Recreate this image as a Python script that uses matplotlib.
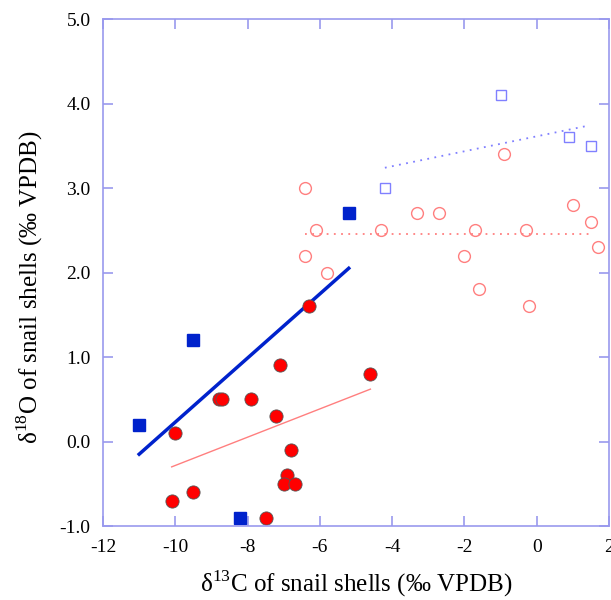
import numpy as np
import matplotlib
matplotlib.use("Agg")
import matplotlib.pyplot as plt

plt.rcParams['font.family'] = ['Liberation Serif', 'DejaVu Serif']
plt.rcParams['mathtext.fontset'] = 'custom'
plt.rcParams['mathtext.rm'] = 'Liberation Serif'
plt.rcParams['axes.unicode_minus'] = False

# filled red circles
red_x = [-6.3, -7.1, -4.6, -8.8, -8.7, -7.9, -7.2, -10.0, -6.8, -6.9, -7.0, -6.7, -9.5, -10.1, -7.5]
red_y = [1.6, 0.9, 0.8, 0.5, 0.5, 0.5, 0.3, 0.1, -0.1, -0.4, -0.5, -0.5, -0.6, -0.7, -0.9]

# filled blue squares
blue_x = [-11.0, -9.5, -8.2, -5.2]
blue_y = [0.2, 1.2, -0.9, 2.7]

# open red circles
ored_x = [-6.4, -6.1, -6.4, -5.8, -4.3, -3.3, -2.7, -1.7, -2.0, -1.6, -0.9, -0.3, -0.2, 1.0, 1.5, 1.7]
ored_y = [3.0, 2.5, 2.2, 2.0, 2.5, 2.7, 2.7, 2.5, 2.2, 1.8, 3.4, 2.5, 1.6, 2.8, 2.6, 2.3]

# open blue squares
oblue_x = [-4.2, -1.0, 0.9, 1.5]
oblue_y = [3.0, 4.1, 3.6, 3.5]

# fitted lines (end points)
blue_fit_x = [-11.0, -5.2]
blue_fit_y = [-0.15, 2.05]
red_fit_x = [-10.1, -4.6]
red_fit_y = [-0.3, 0.62]
ored_fit_x = [-6.4, 1.5]
ored_fit_y = [2.45, 2.45]
oblue_fit_x = [-4.2, 1.45]
oblue_fit_y = [3.24, 3.74]

fig = plt.figure(figsize=(6.11, 6.0), dpi=100)
ax = fig.add_axes([0.1686, 0.1233, 0.828, 0.845])

ax.plot(ored_fit_x, ored_fit_y, ls=(0, (1, 3)), color='#ff7f7f', lw=1.3)
ax.plot(oblue_fit_x, oblue_fit_y, ls=(0, (1, 3)), color='#7f7fff', lw=1.3)
ax.plot(red_fit_x, red_fit_y, color='#ff7f7f', lw=1.0)
ax.plot(blue_fit_x, blue_fit_y, color='#0022cc', lw=2.5)

ax.plot(ored_x, ored_y, 'o', ms=8.5, mfc='none', mec='#ff7f7f', mew=1.0)
ax.plot(oblue_x, oblue_y, 's', ms=6.5, mfc='none', mec='#8080ff', mew=1.0)
ax.plot(blue_x, blue_y, 's', ms=8, mfc='#0022cc', mec='#0022cc')
ax.plot(red_x, red_y, 'o', ms=9.5, mfc='#ff0000', mec='#555555', mew=0.6)

ax.set_xlim(-12, 2)
ax.set_ylim(-1, 5)
ax.set_xticks(np.arange(-12, 3, 2))
ax.set_yticks(np.arange(-1, 6, 1))
ax.set_yticklabels(['%.1f' % v for v in np.arange(-1, 6, 1)])

for s in ax.spines.values():
    s.set_color('#9999ee')
    s.set_linewidth(1.2)
ax.tick_params(direction='in', top=True, right=True, length=7, width=1.2,
               color='#9999ee', labelsize=14, pad=9)

ax.set_xlabel('δ$^{13}$C of snail shells (‰ VPDB)', fontsize=18, labelpad=9)
ax.set_ylabel('δ$^{18}$O of snail shells (‰ VPDB)', fontsize=18)
ax.yaxis.set_label_coords(-0.115, 0.471)

fig.savefig('out.png', dpi=100)
